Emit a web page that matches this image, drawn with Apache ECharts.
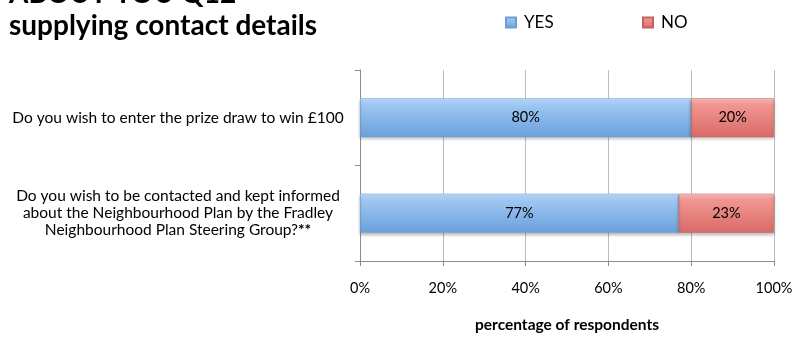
<!DOCTYPE html>
<html><head><meta charset="utf-8">
<script src="https://cdn.jsdelivr.net/npm/echarts@6/dist/echarts.min.js"></script>
<style>html,body{margin:0;padding:0;background:#fff}#c{width:797px;height:338px}</style>
</head><body><div id="c"></div>
<script>
var categories = [
  "Do you wish to enter the prize draw to win £100",
  "Do you wish to be contacted and kept informed\nabout the Neighbourhood Plan by the Fradley\nNeighbourhood Plan Steering Group?**"
];
var yesValues = [80, 77];
var noValues = [20, 23];
var xTicks = [0, 20, 40, 60, 80, 100];
var seriesNames = ["YES", "NO"];

var FONT = "Lato";
function grad(c1, c2, c3) {
  return new echarts.graphic.LinearGradient(0, 0, 0, 1, [
    {offset: 0, color: c1}, {offset: 0.15, color: c2}, {offset: 1, color: c3}
  ]);
}
var legendText = {fontFamily: FONT, fontSize: 17, color: '#000', padding: [0,0,0,3]};
var chart = echarts.init(document.getElementById('c'));
chart.setOption({
  animation: false,
  title: {
    text: "ABOUT YOU Q12\nsupplying contact details",
    left: 4, top: -27,
    textStyle: {fontFamily: FONT, fontWeight: 'bold', fontSize: 28, color: '#000', lineHeight: 32}
  },
  legend: [
    {top: 9, left: 500, itemWidth: 10, itemHeight: 10, icon: 'rect', textStyle: legendText, data: [seriesNames[0]]},
    {top: 9, left: 637, itemWidth: 10, itemHeight: 10, icon: 'rect', textStyle: legendText, data: [seriesNames[1]]}
  ],
  grid: {left: 360, right: 23, top: 70, bottom: 73, containLabel: false},
  xAxis: {
    type: 'value', min: 0, max: 100, interval: 20,
    name: 'percentage of respondents', nameLocation: 'middle', nameGap: 56,
    nameTextStyle: {fontFamily: FONT, fontWeight: 'bold', fontSize: 15.5, color: '#000'},
    axisLine: {show: true, lineStyle: {color: '#8c8c8c'}},
    axisTick: {show: true, length: 5, lineStyle: {color: '#8c8c8c'}},
    axisLabel: {margin: 20, fontFamily: FONT, fontSize: 14.5, color: '#000',
      formatter: function (v) { return xTicks.indexOf(v) >= 0 ? v + '%' : ''; }},
    splitLine: {show: true, lineStyle: {color: '#bcbcbc', width: 1}}
  },
  yAxis: {
    type: 'category', inverse: true, data: categories,
    axisLine: {show: true, lineStyle: {color: '#8c8c8c'}},
    axisTick: {show: true, length: 5, lineStyle: {color: '#8c8c8c'}},
    axisLabel: {margin: 182, fontFamily: FONT, fontSize: 15.5, color: '#000', align: 'center', lineHeight: 17,
      formatter: function (v) { return v.replace('**', '{b|**}'); },
      rich: {b: {fontFamily: FONT, fontSize: 15.5, fontWeight: 'bold', color: '#000', lineHeight: 17}}}
  },
  series: [
    {name: seriesNames[0], type: 'bar', stack: 's', barWidth: 39, data: yesValues,
     itemStyle: {color: grad('#c4e0fb', '#9fc8f3', '#6aa0da'), borderColor: '#6b9fd4', borderWidth: 0.5,
       shadowColor: 'rgba(0,0,0,0.25)', shadowBlur: 3, shadowOffsetY: 2},
     label: {show: true, position: 'inside', formatter: '{c}%', fontFamily: FONT, fontSize: 14.5, color: '#000'}},
    {name: seriesNames[1], type: 'bar', stack: 's', barWidth: 39, data: noValues,
     itemStyle: {color: grad('#fbc4c0', '#f29793', '#d86a66'), borderColor: '#c8605c', borderWidth: 0.5,
       shadowColor: 'rgba(0,0,0,0.25)', shadowBlur: 3, shadowOffsetY: 2},
     label: {show: true, position: 'inside', formatter: '{c}%', fontFamily: FONT, fontSize: 14.5, color: '#000'}}
  ]
});
</script></body></html>
